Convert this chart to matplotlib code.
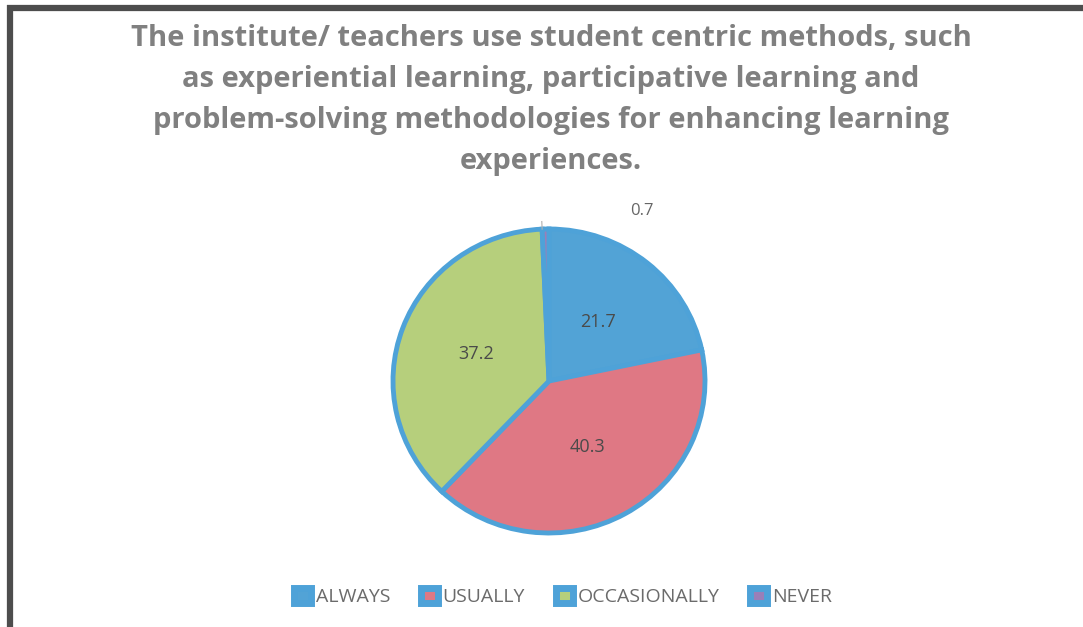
import matplotlib.pyplot as plt
from matplotlib.patches import Patch
from matplotlib.lines import Line2D
import numpy as np

# survey response shares (%)
categories = ['ALWAYS', 'USUALLY', 'OCCASIONALLY', 'NEVER']
shares = [21.7, 40.3, 37.2, 0.7]
share_labels = ['21.7', '40.3', '37.2', '0.7']

title = ('The institute/ teachers use student centric methods, such\n'
         'as experiential learning, participative learning and\n'
         'problem-solving methodologies for enhancing learning\n'
         'experiences.')

edge_blue = '#4ea2d8'
colors = ['#52a3d6', '#df7884', '#b6cf7c', '#9a7fb8']

W, H = 1083, 627
fig = plt.figure(figsize=(W / 100, H / 100), dpi=100)
fig.patch.set_facecolor('white')

# dark frame along the top and left edge
frame = dict(color='#4d4d4d', linewidth=4.5, solid_capstyle='butt',
             transform=fig.transFigure)
fig.add_artist(Line2D([7 / W, 1.0], [1 - 8 / H, 1 - 8 / H], **frame))
fig.add_artist(Line2D([10 / W, 10 / W], [0.0, 1 - 5 / H], **frame))

fig.text(551 / W, 1 - 100 / H, title, ha='center', va='center',
         fontsize=21, fontweight='bold', color='#808080',
         family='Open Sans', linespacing=1.56)

# pie axes (slightly wider than tall)
cx, cy, rx, ry = 549, 246, 156, 152
ax = fig.add_axes([(cx - rx) / W, (cy - ry) / H, 2 * rx / W, 2 * ry / H])
wedges, _ = ax.pie(shares, colors=colors, startangle=90, counterclock=False,
                   radius=1.0,
                   wedgeprops=dict(edgecolor=edge_blue, linewidth=3.5))
ax.set_xlim(-1.0, 1.0)
ax.set_ylim(-1.0, 1.0)
ax.set_aspect('auto')
ax.axis('off')
for w in wedges:
    w.set_clip_on(False)

for w, lab in zip(wedges, share_labels):
    mid = np.deg2rad((w.theta1 + w.theta2) / 2)
    if lab == '0.7':
        # small slice gets its label outside, with a short leader tick
        ang = np.deg2rad(w.theta2)
        ax.plot([np.cos(ang), 1.05 * np.cos(ang)], [np.sin(ang), 1.05 * np.sin(ang)],
                color='#b0b0b0', linewidth=0.8, clip_on=False)
        ax.text(1.27 * np.cos(np.deg2rad(62)), 1.27 * np.sin(np.deg2rad(62)), lab,
                ha='center', va='center', fontsize=12, color='#666666',
                family='Open Sans')
    else:
        ax.text(0.5 * np.cos(mid), 0.5 * np.sin(mid), lab, ha='center', va='center',
                fontsize=13, color='#4a4a4a', family='Open Sans')

handles = [Patch(facecolor=c, edgecolor=edge_blue, linewidth=5) for c in colors]
fig.legend(handles, categories, loc='center', bbox_to_anchor=(563 / W, 30 / H),
           ncol=4, frameon=False, handlelength=0.85, handleheight=0.85,
           handletextpad=0.25, columnspacing=1.6, labelcolor='#6b6b6b',
           prop=dict(family='Open Sans', size=14))

fig.savefig('out.png', dpi=100)
